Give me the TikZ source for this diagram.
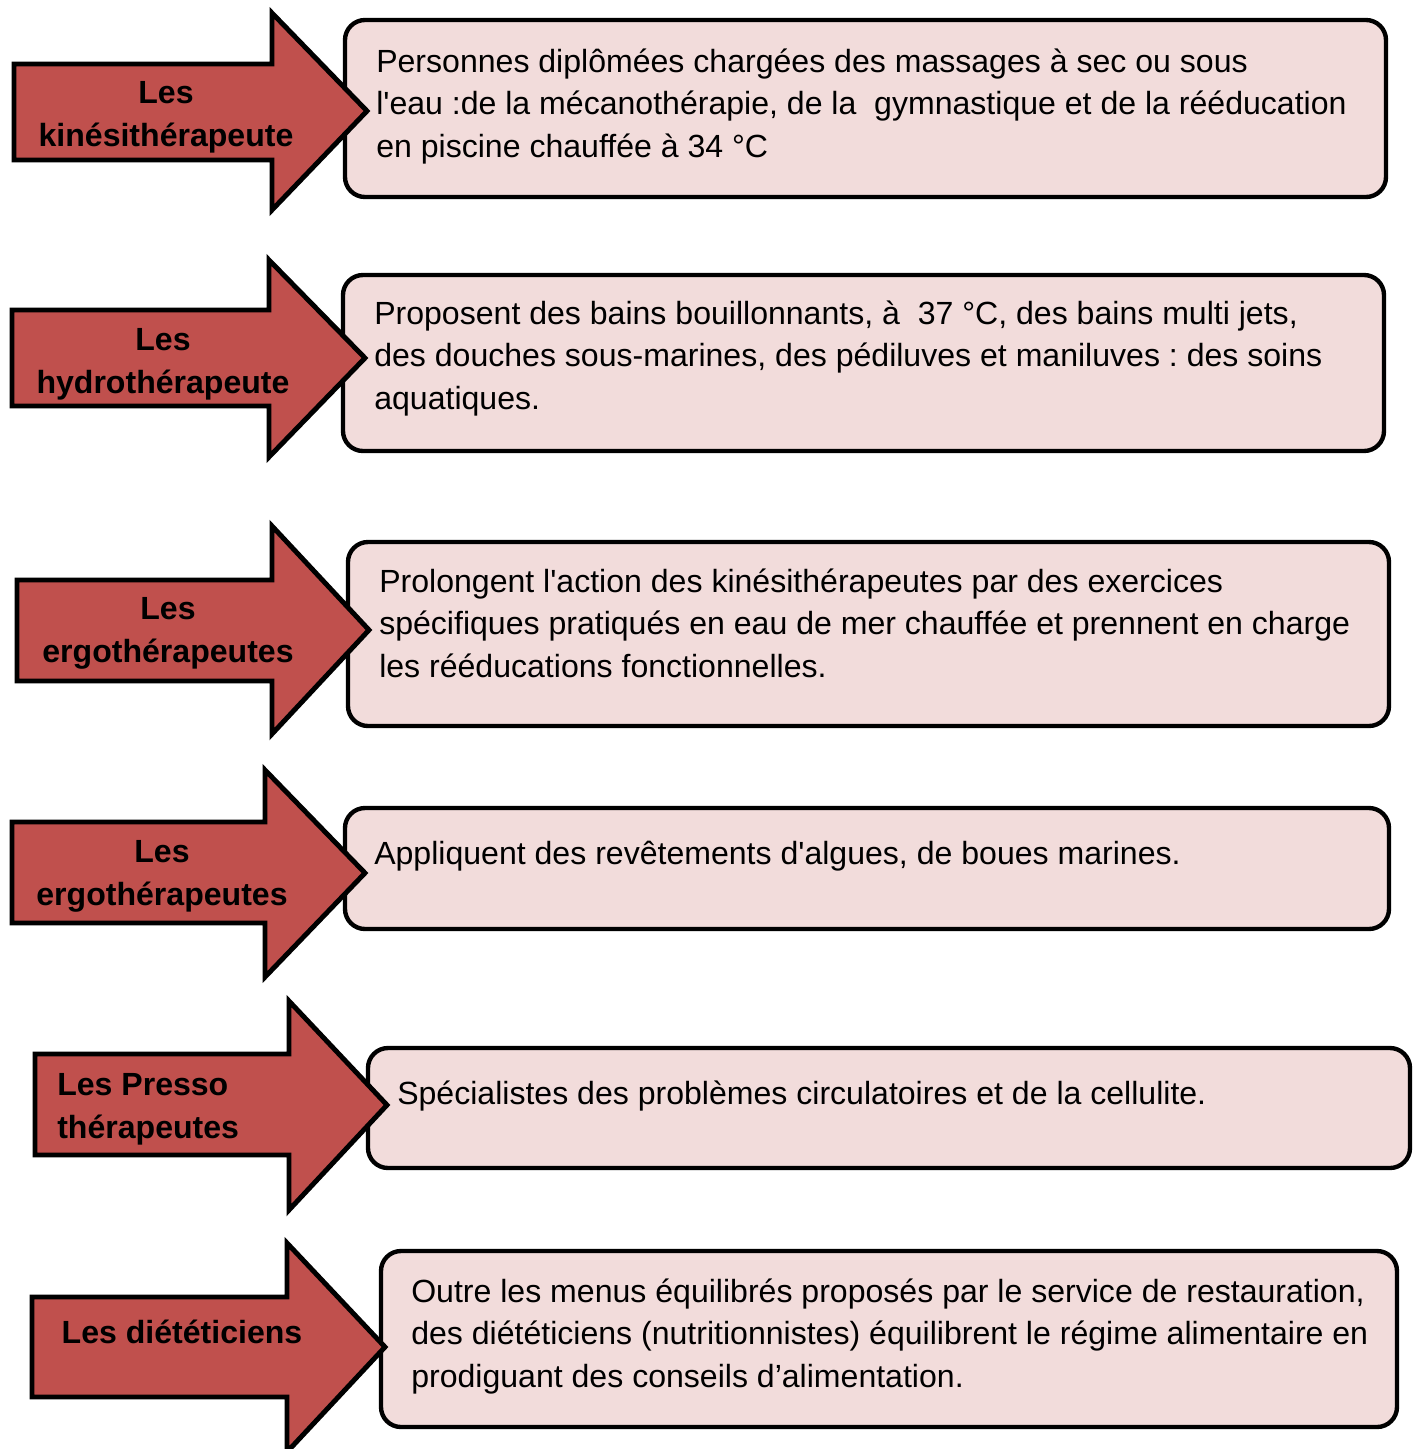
\documentclass[tikz,border=0pt]{standalone}
\usepackage{fontspec}
\setmainfont{Liberation Sans}[Ligatures=TeXOff]
\frenchspacing
\definecolor{rougefleche}{HTML}{C0504D}
\definecolor{roseboite}{HTML}{F2DCDB}
\tikzset{
  fleche/.style={draw=black, fill=rougefleche, line width=3.5pt, line join=miter},
  boite/.style={draw=black, fill=roseboite, line width=3.1pt, rounded corners=0.5cm},
  etiquette/.style={font=\bfseries\fontsize{22.8pt}{29.9pt}\selectfont, align=center, inner sep=0pt},
  texte/.style={font=\fontsize{22.8pt}{29.9pt}\selectfont, align=left, inner sep=0pt}
}
\begin{document}
\begin{tikzpicture}[x=0.025cm, y=-0.025cm]
    \useasboundingbox (0,0) rectangle (1417,1449);

    % Boxes
    \foreach \xa/\ya/\xb/\yb in {345/20/1386/197, 343/275/1384/451, 348/542/1389/726,
        345/808/1389/929, 368/1048/1410/1168, 381/1251/1397/1427}
        \draw[boite] (\xa,\ya) rectangle (\xb,\yb);

    % Arrows
    \foreach \xl/\bt/\bb/\xh/\ht/\hb/\xt/\yt in {14/64/160/272/13/210/367/111,
        12/310/406/269/260/457/365/358, 17/580/681/272/526/734/369/630,
        12/822/923/265/770/977/365/873, 35/1054/1155/289/1001/1210/387/1105,
        32/1297/1397/287/1243/1452/385/1347}
        \draw[fleche] (\xl,\bt) -- (\xh,\bt) -- (\xh,\ht) -- (\xt,\yt)
            -- (\xh,\hb) -- (\xh,\bb) -- (\xl,\bb) -- cycle;

    % Arrow labels (base = last line)
    \node[etiquette, anchor=base] (kine) at (166,146) {Les\\kinésithérapeute};
    \node[etiquette, anchor=base] (hydro) at (163,393) {Les\\hydrothérapeute};
    \node[etiquette, anchor=base] (ergo) at (168,662) {Les\\ergothérapeutes};
    \node[etiquette, anchor=base] (ergob) at (162,905) {Les\\ergothérapeutes};
    \node[etiquette, anchor=base west, align=left] (presso) at (57,1138) {Les Presso\\thérapeutes};
    \node[etiquette, anchor=base] (diet) at (182,1343) {Les diététiciens};

    % Box texts
    \node[texte, anchor=base west] (tkine) at (376,157) {Personnes diplômées chargées des massages à sec ou sous\\l'eau :de la mécanothérapie, de la~ gymnastique et de la rééducation\\en piscine chauffée à 34 °C};
    \node[texte, anchor=base west] (thydro) at (374,409) {Proposent des bains bouillonnants, à~ 37 °C, des bains multi jets,\\des douches sous-marines, des pédiluves et maniluves : des soins\\aquatiques.};
    \node[texte, anchor=base west] (tergo) at (379,677) {Prolongent l'action des kinésithérapeutes par des exercices\\spécifiques pratiqués en eau de mer chauffée et prennent en charge\\les rééducations fonctionnelles.};
    \node[texte, anchor=base west] (tergob) at (374,864) {Appliquent des revêtements d'algues, de boues marines.};
    \node[texte, anchor=base west] (tpresso) at (397,1104) {Spécialistes des problèmes circulatoires et de la cellulite.};
    \node[texte, anchor=base west] (tdiet) at (411,1387) {Outre les menus équilibrés proposés par le service de restauration,\\des diététiciens (nutritionnistes) équilibrent le régime alimentaire en\\prodiguant des conseils d’alimentation.};
\end{tikzpicture}
\end{document}
